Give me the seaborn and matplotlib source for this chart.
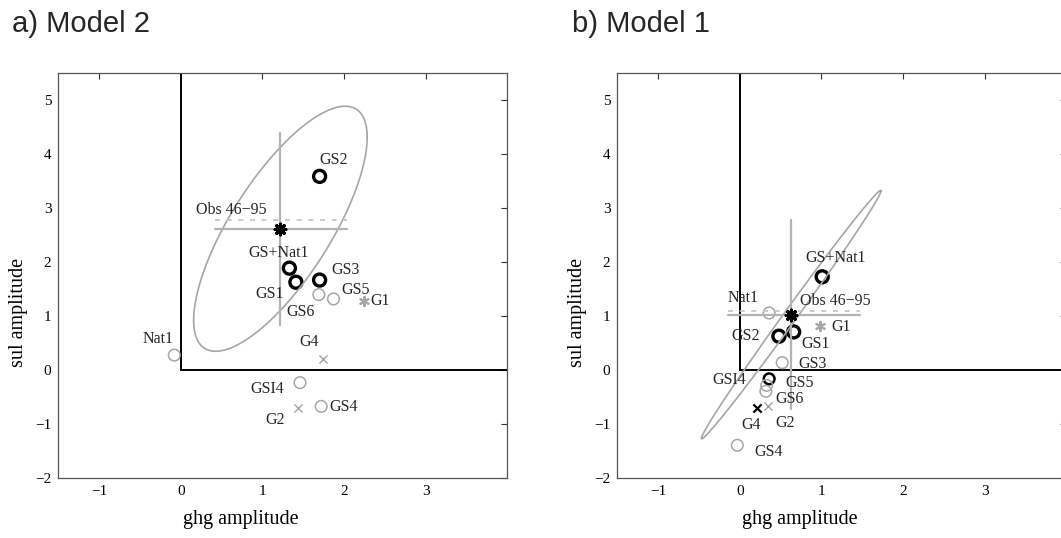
import numpy as np
import pandas as pd
import matplotlib
matplotlib.use("Agg")
import matplotlib.pyplot as plt
import seaborn as sns

# ---- data ----
names_m2 = ["GS2", "GS+Nat1", "GS1", "GS3", "GS6", "GS5", "G1", "Nat1", "G4", "GSI4", "G2", "GS4"]
ghg_m2 = [1.70, 1.33, 1.41, 1.70, 1.69, 1.87, 2.24, -0.08, 1.74, 1.46, 1.44, 1.72]
sul_m2 = [3.58, 1.88, 1.62, 1.66, 1.39, 1.31, 1.28, 0.27, 0.20, -0.24, -0.71, -0.68]
kind_m2 = ["bold", "bold", "bold", "bold", "ring", "ring", "star", "ring", "cross", "ring", "cross", "ring"]

names_m1 = ["GS+Nat1", "Nat1", "GS2", "GS1", "G1", "GS3", "GSI4", "GS5", "GS6", "G4", "G2", "GS4"]
ghg_m1 = [1.01, 0.36, 0.48, 0.66, 0.98, 0.52, 0.36, 0.33, 0.32, 0.21, 0.34, -0.03]
sul_m1 = [1.72, 1.05, 0.62, 0.70, 0.80, 0.13, -0.17, -0.29, -0.40, -0.71, -0.68, -1.40]
kind_m1 = ["bold", "ring", "bold", "bold", "star", "ring", "medium", "ring", "ring", "darkcross", "cross", "ring"]

# observed amplitudes (46-95) with ranges
obs_m2 = (1.22, 2.61)
obs_xrange_m2 = (0.42, 2.04)
obs_yrange_m2 = (0.83, 4.39)
obs_alt_y_m2 = 2.77
obs_m1 = (0.63, 1.02)
obs_xrange_m1 = (-0.15, 1.47)
obs_yrange_m1 = (-0.73, 2.77)
obs_alt_y_m1 = 1.08

# confidence ellipse covariance (var_ghg, var_sul, cov)
ell_cov_m2 = (1.13, 5.15, 1.80)
ell_cov_m1 = (1.21, 5.29, 2.52)

# label offsets in points (dx, dy)
offsets_m2 = {
    "GS2": (10, 11.5), "GS+Nat1": (-8, 10.6), "GS1": (-19, -8.4), "GS3": (18.7, 7.2),
    "GS6": (-13, -12.5), "GS5": (15.8, 6.5), "G1": (12, -0.5), "Nat1": (-12, 11.3),
    "G4": (-10, 11.8), "GSI4": (-23.5, -4.6), "G2": (-16.6, -8.4), "GS4": (16.3, -0.5),
    "Obs 46\u221295": (-35.5, 13.2),
}
offsets_m1 = {
    "GS+Nat1": (10, 13.4), "Nat1": (-18.5, 10.8), "GS2": (-24, 0.5), "GS1": (15.6, -8.4),
    "G1": (15.4, -0.5), "GS3": (21.6, -1), "GSI4": (-29, -0.7), "GS5": (24, 1.5),
    "GS6": (16.8, -5.8), "G4": (-4, -12.5), "G2": (12.7, -12), "GS4": (22.3, -4.6),
    "Obs 46\u221295": (31.7, 9.8),
}

GRAY = "#a6a6a6"
STYLES = {
    "bold": dict(marker="o", s=75, facecolor="none", edgecolor="black", linewidth=2.4),
    "medium": dict(marker="o", s=60, facecolor="none", edgecolor="black", linewidth=1.8),
    "ring": dict(marker="o", s=70, facecolor="none", edgecolor=GRAY, linewidth=1.1),
    "cross": dict(marker="x", s=35, color=GRAY, linewidth=1.0),
    "darkcross": dict(marker="x", s=35, color="black", linewidth=1.6),
    "star": dict(marker=(6, 2, 0), s=45, color=GRAY, linewidth=1.4),
}

sns.set_theme(style="white")
plt.rcParams["font.family"] = ["Liberation Serif", "DejaVu Serif"]
plt.rcParams["axes.unicode_minus"] = True

fig = plt.figure(figsize=(10.61, 5.38), dpi=100)
ax_a = fig.add_axes([0.0550, 0.1121, 0.4232, 0.7528])
ax_b = fig.add_axes([0.5818, 0.1121, 0.4232, 0.7528])


def draw_panel(ax, names, ghg, sul, kinds, obs, xr, yr, alt_y, cov, offsets):
    df = pd.DataFrame({"name": names, "ghg": ghg, "sul": sul, "kind": kinds})
    ax.set_xlim(-1.5, 4)
    ax.set_ylim(-2, 5.5)
    # quadrant lines
    ax.axvline(0, ymin=(0 + 2) / 7.5, ymax=1, color="black", lw=1.4, zorder=1)
    ax.axhline(0, xmin=1.5 / 5.5, xmax=1, color="black", lw=1.4, zorder=1)

    for kind, sub in df.groupby("kind"):
        sns.scatterplot(data=sub, x="ghg", y="sul", ax=ax, legend=False, zorder=3, **STYLES[kind])

    # ellipse around the observation
    a, b, c = cov
    L = np.linalg.cholesky(np.array([[a, c], [c, b]]))
    t = np.linspace(0, 2 * np.pi, 200)
    ring = L @ np.vstack([np.cos(t), np.sin(t)])
    ax.plot(obs[0] + ring[0], obs[1] + ring[1], color=GRAY, lw=1.2, zorder=4)

    # observation ranges
    ax.plot(xr, [obs[1], obs[1]], color="#b3b3b3", lw=1.6, zorder=4)
    ax.plot(xr, [alt_y, alt_y], color="#c4c4c4", lw=1.2, ls=(0, (3, 4)), zorder=4)
    ax.plot([obs[0], obs[0]], yr, color="#b3b3b3", lw=1.6, zorder=4)
    ax.scatter([obs[0]], [obs[1]], marker=(8, 2, 0), s=60, color="black", linewidth=2.2, zorder=6)

    for _, row in df.iterrows():
        ax.annotate(row["name"], (row["ghg"], row["sul"]), xytext=offsets[row["name"]],
                    textcoords="offset points", ha="center", va="center", fontsize=11.5, zorder=7)
    ax.annotate("Obs 46\u221295", obs, xytext=offsets["Obs 46\u221295"],
                textcoords="offset points", ha="center", va="center", fontsize=11.5, zorder=7)

    ax.set_xticks([-1, 0, 1, 2, 3])
    ax.set_yticks([-2, -1, 0, 1, 2, 3, 4, 5])
    ax.tick_params(direction="in", length=4, width=0.8, color="#333333", top=True, right=True,
                   labelsize=11, pad=5, labelcolor="black")
    for sp in ax.spines.values():
        sp.set_color("#555555")
        sp.set_linewidth(0.9)
    ax.set_xlabel("ghg amplitude", fontsize=14.5, color="black")
    ax.set_ylabel("sul amplitude", fontsize=14.5, color="black")
    ax.xaxis.set_label_coords(0.407, -0.080)
    ax.yaxis.set_label_coords(-0.067, 0.407)


draw_panel(ax_a, names_m2, ghg_m2, sul_m2, kind_m2, obs_m2, obs_xrange_m2, obs_yrange_m2,
           obs_alt_y_m2, ell_cov_m2, offsets_m2)
draw_panel(ax_b, names_m1, ghg_m1, sul_m1, kind_m1, obs_m1, obs_xrange_m1, obs_yrange_m1,
           obs_alt_y_m1, ell_cov_m1, offsets_m1)

fig.text(12 / 1061, 1 - 32 / 538, "a) Model 2", family=["Liberation Sans", "DejaVu Sans"],
         fontsize=21, va="baseline", ha="left")
fig.text(572 / 1061, 1 - 32 / 538, "b) Model 1", family=["Liberation Sans", "DejaVu Sans"],
         fontsize=21, va="baseline", ha="left")

fig.savefig("out.png", dpi=100)
